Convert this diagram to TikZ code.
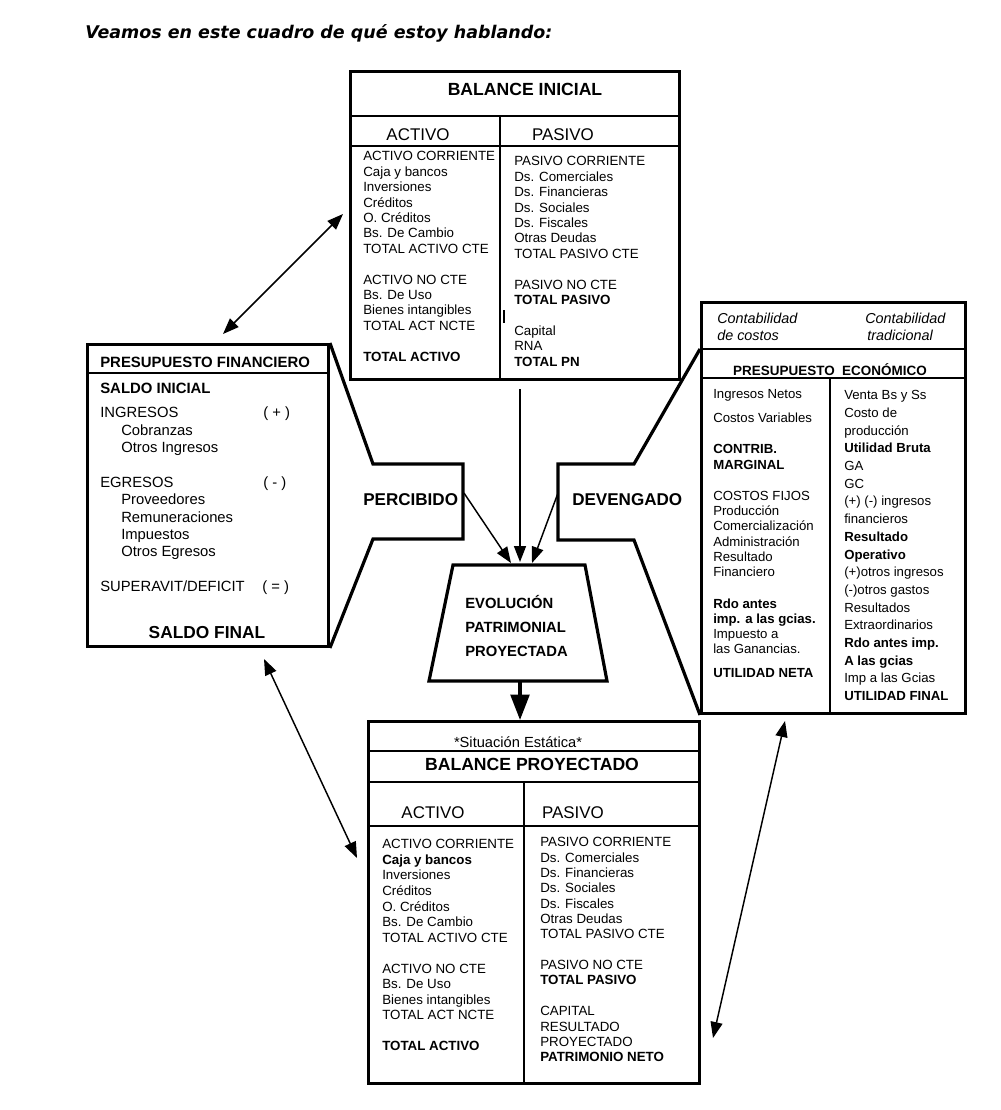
\documentclass[tikz,border=0pt]{standalone}
\usepackage{fontspec}
\setmainfont{Liberation Sans}
\newfontfamily\titlefont{DejaVu Sans}
\usetikzlibrary{arrows.meta}
\newcommand{\setfs}[1]{\fontsize{#1pt}{#1pt}\selectfont}
\begin{document}
\begin{tikzpicture}[x=0.75pt,y=-0.75pt,
 box/.style={draw,line width=2.2pt,inner sep=0pt,anchor=north west},
 rule/.style={line width=2.2pt},
 funnel/.style={line width=2.4pt,line join=miter},
 arr/.style={line width=1.1pt,-{Triangle[length=12pt,width=9pt]}},
 dbl/.style={line width=1.1pt,{Triangle[length=12pt,width=9pt]}-{Triangle[length=12pt,width=9pt]}},
 txt/.style={anchor=base west,inner sep=0pt},
 ctxt/.style={anchor=base,inner sep=0pt},
 bodyA/.style={txt,font=\setfs{10}},
 pftxt/.style={txt,font=\setfs{11.1}},
 petxt/.style={txt,font=\setfs{9.9}},
 colhead/.style={ctxt,font=\setfs{12.7}},
 btitle/.style={ctxt,font=\bfseries\setfs{13.2}},
 bigbold/.style={txt,font=\bfseries\setfs{12.8}},
]
\fill[white] (0,0) rectangle (1000,1110);
\useasboundingbox (0,0) rectangle (1000,1110);

% title
\node[txt,font=\titlefont\bfseries\itshape\setfs{13.1}] (title) at (85,38) {Veamos en este cuadro de qué estoy hablando:};

% ---------- BALANCE INICIAL ----------
\node[box,minimum width=329*0.75pt,minimum height=308*0.75pt] (bi) at (349,70) {};
\draw[rule] (349,116) -- (678,116);
\draw[rule] (349,146) -- (678,146);
\draw[rule] (500,116) -- (500,378);
\draw[line width=0.8pt] (504,310) -- (504,323);
\node[btitle] (bititle) at (525,95) {BALANCE INICIAL};
\node[colhead] (biact) at (418,140) {ACTIVO};
\node[colhead] (bipas) at (563,140) {PASIVO};
\foreach \i/\t in {0/ACTIVO CORRIENTE,1/Caja y bancos,2/Inversiones,3/Créditos,4/O. Créditos,5/Bs. De Cambio,6/TOTAL ACTIVO CTE,8/ACTIVO NO CTE,9/Bs. De Uso,10/Bienes intangibles,11/TOTAL ACT NCTE,13/\textbf{TOTAL ACTIVO}}
  \node[bodyA] (bil\i) at (363,160.8+15.4*\i) {\t};
\foreach \i/\t in {0/PASIVO CORRIENTE,1/Ds. Comerciales,2/Ds. Financieras,3/Ds. Sociales,4/Ds. Fiscales,5/Otras Deudas,6/TOTAL PASIVO CTE,8/PASIVO NO CTE,9/\textbf{TOTAL PASIVO},11/Capital,12/RNA,13/\textbf{TOTAL PN}}
  \node[bodyA] (bir\i) at (514,165.8+15.4*\i) {\t};

% ---------- PRESUPUESTO FINANCIERO ----------
\node[box,minimum width=241*0.75pt,minimum height=302*0.75pt] (pf) at (86,343) {};
\draw[rule] (86,373) -- (327,373);
\node[pftxt,font=\bfseries\setfs{11.2}] (pftitle) at (100,367) {PRESUPUESTO FINANCIERO};
\node[pftxt,font=\bfseries\setfs{11.2}] (pfsi) at (100,393) {SALDO INICIAL};
\node[pftxt] (pfing) at (100,417.3) {INGRESOS};
\node[pftxt] (pfmas) at (263,417.3) {( + )};
\node[pftxt] (pfcob) at (121,435.3) {Cobranzas};
\node[pftxt] (pfoi) at (121,452.3) {Otros Ingresos};
\node[pftxt] (pfegr) at (100,487.3) {EGRESOS};
\node[pftxt] (pfmen) at (263,487.3) {( - )};
\node[pftxt] (pfpro) at (121,504.3) {Proveedores};
\node[pftxt] (pfrem) at (121,522.3) {Remuneraciones};
\node[pftxt] (pfimp) at (121,539.3) {Impuestos};
\node[pftxt] (pfoe) at (121,556.3) {Otros Egresos};
\node[pftxt] (pfsup) at (100,591) {SUPERAVIT/DEFICIT};
\node[pftxt] (pfigu) at (262,591) {( = )};
\node[ctxt,font=\bfseries\setfs{13}] (pfsf) at (207,638) {SALDO FINAL};

% ---------- PRESUPUESTO ECONOMICO ----------
\node[box,minimum width=264*0.75pt,minimum height=411*0.75pt] (pe) at (700,301) {};
\draw[rule] (700,349) -- (964,349);
\draw[rule] (700,378) -- (964,378);
\draw[rule] (830,378) -- (830,712);
\node[txt,font=\itshape\setfs{10.8}] (pec1) at (717,323) {Contabilidad};
\node[txt,font=\itshape\setfs{10.8}] (pec2) at (717,340) {de costos};
\node[txt,font=\itshape\setfs{10.8}] (pet1) at (865,323) {Contabilidad};
\node[txt,font=\itshape\setfs{10.8}] (pet2) at (867,340) {tradicional};
\node[ctxt,font=\bfseries\setfs{10.1}] (petitle) at (830,375) {PRESUPUESTO\ \ ECONÓMICO};
\foreach \y/\t [count=\i] in {398.75/Ingresos Netos,422.75/Costos Variables,453.75/\textbf{CONTRIB.},469.75/\textbf{MARGINAL},500.75/COSTOS FIJOS,515.75/Producción,530.75/Comercialización,546.75/Administración,561.75/Resultado,576.75/Financiero,608.75/\textbf{Rdo antes},623.75/\textbf{imp. a las gcias.},638.75/Impuesto a,653.75/las Ganancias.,677.75/\textbf{UTILIDAD NETA}}
  \node[petxt] (pel\i) at (713,\y) {\t};
\foreach \i/\t in {0/Venta Bs y Ss,1/Costo de,2/producción,3/\textbf{Utilidad Bruta},4/GA,5/GC,6/{(+) (-) ingresos},7/financieros,8/\textbf{Resultado},9/\textbf{Operativo},10/{(+)otros ingresos},11/{(-)otros gastos},12/Resultados,13/Extraordinarios,14/\textbf{Rdo antes imp.},15/\textbf{A las gcias},16/Imp a las Gcias,17/\textbf{UTILIDAD FINAL}}
  \node[petxt] (per\i) at (844,399.75+17.7*\i) {\t};

% ---------- funnels ----------
\coordinate (lf1) at (373,464);
\coordinate (lf2) at (463,464);
\coordinate (lf3) at (463,539);
\coordinate (lf4) at (373,539);
\draw[funnel] (pf.north east) -- (lf1) -- (lf2) -- (lf3) -- (lf4) -- (pf.south east);
\coordinate (rf0) at (700,349);
\coordinate (rf1) at (634,464);
\coordinate (rf2) at (558,464);
\coordinate (rf3) at (558,540);
\coordinate (rf4) at (634,540);
\draw[funnel] (rf0) -- (rf1) -- (rf2) -- (rf3) -- (rf4) -- (pe.south west);
\node[bigbold] (perc) at (363,505) {PERCIBIDO};
\node[bigbold] (deve) at (572,505) {DEVENGADO};

% ---------- trapezoid ----------
\coordinate (t1) at (453,565);
\coordinate (t2) at (585,565);
\coordinate (t3) at (607,681);
\coordinate (t4) at (429,681);
\draw[funnel] (t1) -- (t2) -- (t3) -- (t4) -- cycle;
\node[txt,font=\bfseries\setfs{11.1}] (ev1) at (465,608) {EVOLUCIÓN};
\node[txt,font=\bfseries\setfs{11.1}] (ev2) at (465,632) {PATRIMONIAL};
\node[txt,font=\bfseries\setfs{11.1}] (ev3) at (465,656) {PROYECTADA};

% center arrows
\coordinate (va) at (520,389);
\coordinate (vb) at (520,562);
\draw[arr] (va) -- (vb);
\coordinate (pa) at (464,493);
\coordinate (pb) at (511,563);
\draw[arr] (pa) -- (pb);
\coordinate (da) at (558,493);
\coordinate (db) at (532,563);
\draw[arr] (da) -- (db);

% ---------- BALANCE PROYECTADO ----------
\node[box,minimum width=331*0.75pt,minimum height=362*0.75pt] (bp) at (367,720) {};
\draw[rule] (367,751) -- (698,751);
\draw[rule] (367,782) -- (698,782);
\draw[rule] (367,826) -- (698,826);
\draw[rule] (524,782) -- (524,1082);
\node[ctxt,font=\setfs{11}] (bpsit) at (518,747) {*Situación Estática*};
\node[btitle] (bptitle) at (532,770) {BALANCE PROYECTADO};
\node[colhead] (bpact) at (433,818) {ACTIVO};
\node[colhead] (bppas) at (573,818) {PASIVO};
\foreach \i/\t in {0/ACTIVO CORRIENTE,1/\textbf{Caja y bancos},2/Inversiones,3/Créditos,4/O. Créditos,5/Bs. De Cambio,6/TOTAL ACTIVO CTE,8/ACTIVO NO CTE,9/Bs. De Uso,10/Bienes intangibles,11/TOTAL ACT NCTE,13/\textbf{TOTAL ACTIVO}}
  \node[bodyA] (bpl\i) at (382,848.8+15.55*\i) {\t};
\foreach \i/\t in {0/PASIVO CORRIENTE,1/Ds. Comerciales,2/Ds. Financieras,3/Ds. Sociales,4/Ds. Fiscales,5/Otras Deudas,6/TOTAL PASIVO CTE,8/PASIVO NO CTE,9/\textbf{TOTAL PASIVO},11/CAPITAL,12/RESULTADO,13/PROYECTADO,14/\textbf{PATRIMONIO NETO}}
  \node[bodyA] (bpr\i) at (540,846.8+15.35*\i) {\t};

% thick arrow
\coordinate (tb) at (520,681);
\draw[line width=2.5pt,-{Triangle[length=19pt,width=14pt]}] (tb) -- (tb |- bp.north);

% double arrows
\coordinate (d1a) at (223,334);
\coordinate (d1b) at (343,214);
\draw[dbl] (d1a) -- (d1b);
\coordinate (d2a) at (264,659);
\coordinate (d2b) at (357,858);
\draw[dbl] (d2a) -- (d2b);
\coordinate (d3a) at (785,721);
\coordinate (d3b) at (713,1038);
\draw[dbl] (d3a) -- (d3b);
\end{tikzpicture}
\end{document}
